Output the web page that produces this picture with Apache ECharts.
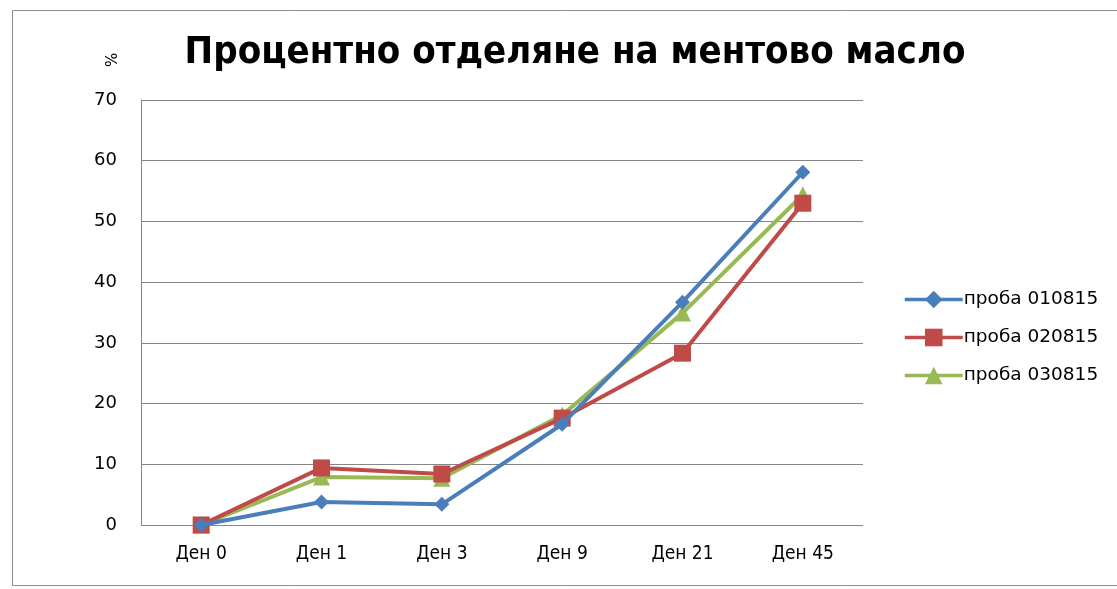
<!DOCTYPE html>
<html><head><meta charset="utf-8">
<script src="https://cdn.jsdelivr.net/npm/echarts@6/dist/echarts.min.js"></script>
<style>html,body{margin:0;padding:0;background:#fff}#c{width:1117px;height:589px}</style>
</head><body><div id="c"></div>
<script>
const categories = ['Ден 0','Ден 1','Ден 3','Ден 9','Ден 21','Ден 45'];
const seriesNames = ['проба 010815','проба 020815','проба 030815'];
const s1 = [0, 3.8, 3.4, 16.6, 36.7, 58.1];
const s2 = [0, 9.4, 8.4, 17.6, 28.3, 53.0];
const s3 = [0, 7.9, 7.7, 18.1, 34.9, 54.4];
const colors = ['#4a7ebb','#be4b48','#98b954'];
const symbols = ['diamond','rect','triangle'];
const symSizes = [15, 17, 17];
const data = [s1, s2, s3];

const chart = echarts.init(document.getElementById('c'));
chart.setOption({
  animation: false,
  graphic: [{
    type: 'rect', shape: {x: 12.5, y: 10.5, width: 1120, height: 575},
    style: {fill: 'none', stroke: '#8c8c8c', lineWidth: 1}
  }, {
    type: 'text', x: 106, y: 67, rotation: Math.PI / 2,
    style: {text: '%', fontFamily: 'DejaVu Sans', fontSize: 15, fill: '#000'}
  }],
  title: {
    text: 'Процентно отделяне на ментово масло',
    left: 570, top: 29, textAlign: 'center',
    textStyle: {fontFamily: 'DejaVu Sans Condensed', fontWeight: 'bold', fontSize: 38, color: '#000'}
  },
  legend: {
    orient: 'vertical', left: 898, top: 285, itemGap: 19,
    itemWidth: 58, itemHeight: 22,
    lineStyle: {width: 3.5},
    textStyle: {fontFamily: 'DejaVu Sans', fontSize: 18.5, color: '#000', padding: [0,0,0,-4]},
    data: seriesNames
  },
  grid: {left: 141, right: 254, top: 100, bottom: 64, containLabel: false},
  xAxis: {
    type: 'category', data: categories, boundaryGap: true,
    axisLine: {show: false}, axisTick: {show: false},
    axisLabel: {fontFamily: 'DejaVu Sans Condensed', fontSize: 19, color: '#000', margin: 20}
  },
  yAxis: {
    type: 'value', min: 0, max: 70, interval: 10,
    axisLine: {show: true, lineStyle: {color: '#868686', width: 1}},
    axisTick: {show: false},
    splitLine: {show: true, lineStyle: {color: '#868686', width: 1}},
    axisLabel: {fontFamily: 'DejaVu Sans', fontSize: 18, color: '#000', margin: 24}
  },
  series: data.map((d, i) => ({
    name: seriesNames[i], type: 'line', data: d,
    symbol: symbols[i], symbolSize: symSizes[i], showAllSymbol: true,
    lineStyle: {color: colors[i], width: 4},
    itemStyle: {color: colors[i]},
    z: 3 - i
  }))
});
</script></body></html>
